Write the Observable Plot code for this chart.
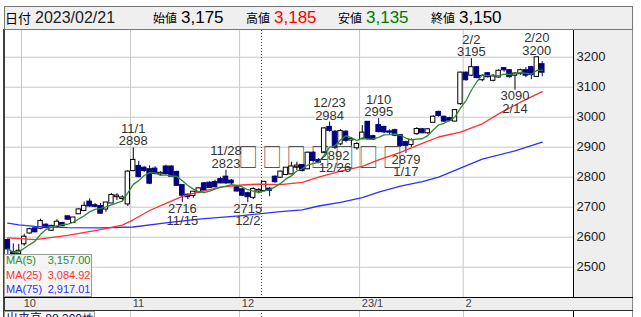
<!DOCTYPE html>
<html><head><meta charset="utf-8">
<script src="https://cdn.jsdelivr.net/npm/d3@7"></script>
<script src="https://cdn.jsdelivr.net/npm/@observablehq/plot@0.6"></script>
<style>
html,body{margin:0;padding:0;background:#fff;}
#chart{position:relative;width:641px;height:317px;overflow:hidden;}
</style></head><body><div id="chart"></div>
<script>
// ---- data ----
const dates = ["09/28","09/29","09/30",
"10/03","10/04","10/05","10/06","10/07","10/11","10/12","10/13","10/14",
"10/17","10/18","10/19","10/20","10/21","10/24","10/25","10/26","10/27","10/28",
"10/31","11/01","11/02","11/04","11/07","11/08","11/09","11/10","11/11",
"11/14","11/15","11/16","11/17","11/18","11/21","11/22","11/24","11/25",
"11/28","11/29","11/30","12/01","12/02","12/05","12/06","12/07","12/08","12/09",
"12/12","12/13","12/14","12/15","12/16","12/19","12/20","12/21","12/22","12/23",
"12/26","12/27","12/28","12/29","12/30","01/04","01/05","01/06",
"01/10","01/11","01/12","01/13","01/16","01/17","01/18","01/19","01/20",
"01/23","01/24","01/25","01/26","01/27","01/30","01/31","02/01","02/02","02/03",
"02/06","02/07","02/08","02/09","02/10","02/13","02/14","02/15","02/16","02/17",
"02/20","02/21"];
const open = [2589,2548,2545,
2578,2614,2628,2630,2640, 2623,2636,2646,2668,
2649,2678,2689,2717,2705, 2702,2694,2714,2735,2729,
2711,2822,2836,2830, 2825,2827,2811,2834,2834,
2816,2772,2740,2739,2750, 2778,2780,2782,2792,
2800,2787,2765,2758,2745, 2733,2754,2756,2760,2800,
2800,2809,2811,2835,2839, 2828,2880,2856,2883,2966,
2950,2911,2950,2924,2898, 2928,2983,2935,
2972,2966,2951,2955, 2939,2915,2909,2945,2958,
2948,2983,3016,3000,2995, 2987,3045,3147,3140,3165,
3125,3145,3123,3134,3162, 3155,3140,3145,3155,3165,
3136,3175];
const high = [2595,2578,2576,
2610,2630,2630,2660,2645, 2640,2658,2648,2670,
2666,2695,2717,2728,2712, 2712,2716,2745,2745,2738,
2822,2898,2853,2835, 2838,2835,2818,2840,2838,
2820,2775,2745,2752,2765, 2782,2785,2790,2800,
2823,2792,2770,2762,2750, 2765,2762,2786,2765,2805,
2820,2832,2850,2850,2842, 2884,2885,2862,2965,2984,
2955,2958,2955,2932,2915, 2972,2985,2940,
2995,2970,2958,2960, 2942,2920,2928,2965,2962,
2962,3005,3020,3003,3000, 3025,3150,3150,3195,3168,
3142,3148,3142,3158,3163, 3158,3148,3160,3165,3170,
3200,3185];
const low = [2540,2525,2538,
2570,2610,2615,2625,2628, 2620,2630,2636,2657,
2646,2676,2686,2700,2698, 2677,2683,2712,2722,2718,
2702,2818,2798,2816, 2775,2808,2806,2808,2800,
2770,2716,2725,2730,2745, 2752,2762,2765,2778,
2776,2776,2750,2735,2715, 2725,2745,2750,2735,2780,
2797,2805,2808,2822,2818, 2825,2850,2845,2878,2950,
2892,2905,2915,2903,2890, 2925,2925,2922,
2948,2945,2940,2935, 2900,2879,2900,2940,2945,
2942,2980,3000,2982,2985, 2985,3040,3120,3135,3128,
3118,3130,3118,3130,3150, 3130,3090,3140,3132,3125,
3135,3135];
const close = [2561,2538,2553,
2600,2625,2618,2652,2632, 2636,2650,2638,2660,
2664,2691,2703,2704,2703, 2680,2714,2739,2737,2731,
2817,2856,2802,2822, 2780,2812,2813,2812,2803,
2773,2740,2735,2750,2761, 2757,2766,2768,2781,
2781,2781,2754,2740,2735, 2759,2756,2783,2756,2785,
2817,2830,2834,2837,2822, 2880,2856,2850,2961,2956,
2900,2952,2923,2926,2909, 2947,2928,2927,
2952,2951,2950,2940, 2906,2906,2922,2959,2948,
2958,3000,3006,2987,2990, 3022,3147,3125,3165,3132,
3136,3135,3134,3153,3158, 3135,3144,3155,3140,3142,
3198,3150];

const ma25Dates = ["09/28","10/05","10/14","10/24","10/28","11/01","11/07","11/10","11/15","11/18","11/25","12/01","12/06","12/12","12/16","12/21","12/27","01/04","01/10","01/16","01/20","01/25","01/31","02/06","02/09","02/15","02/21"];
const ma25 = [2598,2592,2606,2625,2640,2658,2689,2713,2736,2750,2767,2774,2777,2775,2783,2800,2820,2836,2858,2883,2913,2934,2950,2978,3011,3050,3085];
const ma75Dates = ["09/28","09/30","10/05","10/14","10/24","11/01","11/10","11/18","12/01","12/12","12/16","12/21","12/27","01/04","01/10","01/16","01/20","01/25","01/31","02/06","02/14","02/21"];
const ma75 = [2647,2641,2636,2632,2631,2634,2648,2660,2672,2685,2691,2704,2716,2732,2750,2770,2785,2800,2830,2860,2888,2917];

const monthStarts = ["10/03","11/01","12/01","01/04","02/01"];
const monthLabels = ["10","11","12","23/1","2"];
const yTicks = [2500,2600,2700,2800,2900,3000,3100,3200];
const highMarks = ["11/01","11/28","12/23","01/10","02/02","02/20"];
const lowMarks = ["11/15","12/02","12/26","01/17","02/14"];
const markerDate = "12/07";
const tofuText = "□□□□□□□";
const tofuDate = "12/21";
const tofuLevel = 2862;
const maNames = ["MA(5)","MA(25)","MA(75)"];
const maLast = [3157.00, 3084.92, 2917.01];
const maColors = ["#2e8b2e","#ff3030","#3030ff"];
const headerDate = "2023/02/21";
const headerLabels = ["始値","高値","安値","終値"];
const headerValues = [3175,3185,3135,3150];
const headerColors = ["#000","#ff0000","#007a00","#000"];
const volumeLabel = "出来高";
const volumeValue = 88300;

// ---- build ----
const idx = new Map(dates.map((d, k) => [d, k]));
const candles = dates.map((d, k) => ({k, d, o: open[k], h: high[k], l: low[k], c: close[k]}));
const ups = candles.filter(d => d.c >= d.o);
const downs = candles.filter(d => d.c < d.o);
const md = s => s.split("/").map(Number).join("/");
const navy = "#00007f";
const ma25pts = ma25Dates.map((d, j) => ({k: idx.get(d), v: ma25[j]}));
const ma75pts = ma75Dates.map((d, j) => ({k: idx.get(d), v: ma75[j]}));
const lab = "'Liberation Sans', Arial, sans-serif";
const cjk = "'Noto Sans CJK JP', sans-serif";

const plot = Plot.plot({
  width: 641, height: 317,
  marginLeft: 4, marginRight: 68, marginTop: 30, marginBottom: 20,
  x: {domain: [-0.615, 103.73]},
  y: {domain: [2399, 3289]},
  style: {fontFamily: lab, fontSize: "13px", background: "transparent", overflow: "visible"},
  marks: [
    Plot.ruleY(yTicks, {stroke: "#c8c8c8", strokeOpacity: 1}),
    Plot.ruleX(monthStarts, {x: d => idx.get(d) - 0.5, stroke: "#c8c8c8", strokeOpacity: 1}),
    Plot.ruleX([markerDate], {x: d => idx.get(d) - 0.5, stroke: "#444", strokeDasharray: "1,2"}),
    Plot.text([tofuText], {x: idx.get(tofuDate), y: tofuLevel, text: d => d, fontFamily: cjk, fontSize: 26, fill: "#555", textAnchor: "middle", dx: 4}),
    Plot.ruleX(ups, {x: "k", y1: "l", y2: "h", stroke: "#000"}),
    Plot.ruleX(downs, {x: "k", y1: "l", y2: "h", stroke: navy}),
    Plot.rect(ups, {x1: d => d.k - 0.4, x2: d => d.k + 0.4, y1: "o", y2: "c", fill: "#fff", stroke: "#000", insetTop: -0.5, insetBottom: -0.5}),
    Plot.rect(downs, {x1: d => d.k - 0.42, x2: d => d.k + 0.42, y1: "o", y2: "c", fill: navy, stroke: navy, insetTop: -0.5, insetBottom: -0.5}),
    Plot.line(ma75pts, {x: "k", y: "v", stroke: maColors[2], strokeWidth: 1.3}),
    Plot.line(ma25pts, {x: "k", y: "v", stroke: maColors[1], strokeWidth: 1.3}),
    Plot.lineY(candles, Plot.windowY({k: 5, anchor: "end", strict: false, reduce: "mean"}, {x: "k", y: "c", stroke: maColors[0], strokeWidth: 1.3})),
    Plot.text(highMarks, {x: d => idx.get(d), y: d => high[idx.get(d)], text: d => `${md(d)}\n${high[idx.get(d)]}`, lineAnchor: "bottom", dy: -2.5, lineHeight: 0.95, fill: "#333", fontSize: 13}),
    Plot.text(lowMarks, {x: d => idx.get(d), y: d => low[idx.get(d)], text: d => `${low[idx.get(d)]}\n${md(d)}`, lineAnchor: "top", dy: 1.5, lineHeight: 0.95, fill: "#333", fontSize: 13}),
    Plot.axisY({anchor: "right", ticks: yTicks, tickSize: 0, tickPadding: 3, tickFormat: d => String(d), fontSize: 13, fill: "#222", label: null}),
    Plot.axisX({ticks: monthStarts.map(d => idx.get(d)), tickFormat: k => monthLabels[monthStarts.indexOf(dates[k])], textAnchor: "start", tickSize: 0, tickPadding: 2, fontSize: 11, fill: "#444", dx: -0.5, label: null})
  ]
});
document.getElementById("chart").appendChild(plot);

const svg = d3.select(plot);
const xs = plot.scale("x");

// shape the missing-glyph boxes (narrower, wider pitch)
svg.selectAll("text").filter(function() { return this.textContent === tofuText; }).each(function() {
  const cx = xs.apply(idx.get(tofuDate));
  const t = d3.select(this);
  t.attr("letter-spacing", 6.5);
  const old = t.attr("transform") || "";
  t.attr("transform", `translate(${cx},0) scale(0.74,1) translate(${-cx},0) ${old}`);
});

const bg = svg.insert("g", ":first-child");
bg.append("rect").attr("x", 573).attr("y", 30).attr("width", 60).attr("height", 267).attr("fill", "#eeeeee");
bg.append("rect").attr("x", 4).attr("y", 297).attr("width", 629).attr("height", 13).attr("fill", "#eeeeee");
monthStarts.forEach(d => {
  const x = Math.round(xs.apply(idx.get(d) - 0.5)) + 0.5;
  bg.append("line").attr("x1", x).attr("x2", x).attr("y1", 310).attr("y2", 317).attr("stroke", "#c8c8c8");
});
{
  const x = Math.round(xs.apply(idx.get(markerDate) - 0.5)) + 0.5;
  bg.append("line").attr("x1", x).attr("x2", x).attr("y1", 310).attr("y2", 317).attr("stroke", "#444").attr("stroke-dasharray", "1,2");
}

const fg = svg.append("g").attr("text-anchor", "start");
fg.append("line").attr("x1", 4).attr("x2", 4).attr("y1", 29).attr("y2", 317).attr("stroke", "#000").attr("stroke-width", 1.5);
fg.append("line").attr("x1", 573.5).attr("x2", 573.5).attr("y1", 29).attr("y2", 297).attr("stroke", "#000");
fg.append("line").attr("x1", 573.5).attr("x2", 573.5).attr("y1", 310).attr("y2", 317).attr("stroke", "#000");
fg.append("line").attr("x1", 632.5).attr("x2", 632.5).attr("y1", 29).attr("y2", 317).attr("stroke", "#888");
fg.append("line").attr("x1", 4).attr("x2", 633).attr("y1", 297.5).attr("y2", 297.5).attr("stroke", "#000");
fg.append("line").attr("x1", 4).attr("x2", 633).attr("y1", 310.5).attr("y2", 310.5).attr("stroke", "#333");

// header
fg.append("rect").attr("x", 4.5).attr("y", 6.5).attr("width", 628).attr("height", 23).attr("fill", "#efefef").attr("stroke", "#777");
fg.append("text").attr("x", 5).attr("y", 22.5).attr("font-family", cjk).attr("font-size", 13).attr("fill", "#000").text("日付");
fg.append("text").attr("x", 35).attr("y", 23.3).attr("font-family", lab).attr("font-size", 16).attr("fill", "#222").text(headerDate);
const hx = [153, 246, 338, 431];
headerLabels.forEach((t, j) => {
  fg.append("text").attr("x", hx[j]).attr("y", 22.5).attr("font-family", cjk).attr("font-size", 12).attr("fill", "#000").text(t);
  fg.append("text").attr("x", hx[j] + 28).attr("y", 23.3).attr("font-family", lab).attr("font-size", 17).attr("fill", headerColors[j]).text(d3.format(",")(headerValues[j]));
});

// MA legend
fg.append("rect").attr("x", 4.5).attr("y", 254.5).attr("width", 87).attr("height", 42).attr("fill", "rgba(243,243,243,0.85)").attr("stroke", "#999");
maNames.forEach((n, j) => {
  const yb = 264 + j * 14.6;
  fg.append("text").attr("x", 6).attr("y", yb).attr("font-family", lab).attr("font-size", 11).attr("fill", maColors[j]).text(n);
  fg.append("text").attr("x", 90.5).attr("y", yb).attr("text-anchor", "end").attr("font-family", lab).attr("font-size", 11).attr("fill", maColors[j]).text(d3.format(",.2f")(maLast[j]));
});

// volume label box (cut off at bottom)
fg.append("rect").attr("x", 4.5).attr("y", 311.5).attr("width", 90).attr("height", 14).attr("fill", "#fff").attr("stroke", "#999");
fg.append("text").attr("x", 6).attr("y", 323).attr("font-family", cjk).attr("font-size", 12).attr("fill", "#000060").text(volumeLabel);
fg.append("text").attr("x", 94).attr("y", 323).attr("text-anchor", "end").attr("font-family", lab).attr("font-size", 12).attr("fill", "#000060").text(d3.format(",")(volumeValue) + "株");
</script></body></html>
